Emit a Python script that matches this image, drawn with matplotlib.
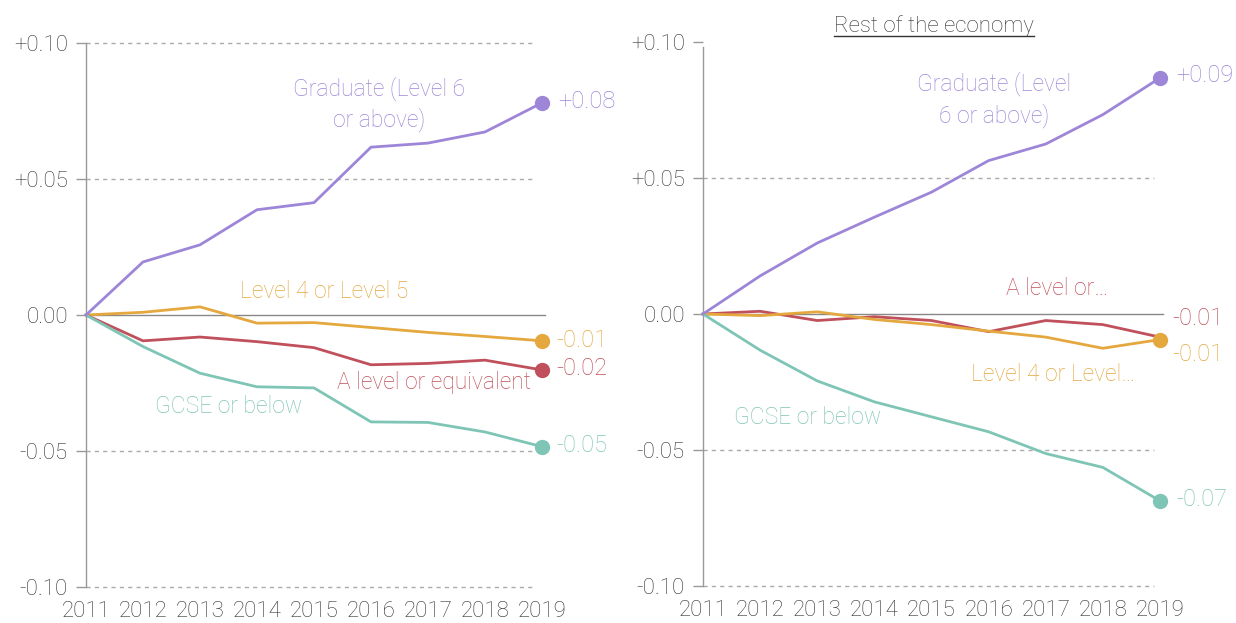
import numpy as np
import matplotlib
matplotlib.use("Agg")
import matplotlib.pyplot as plt
from matplotlib.lines import Line2D

plt.rcParams['font.family'] = ['Roboto', 'DejaVu Sans']
plt.rcParams['font.weight'] = 'light'

years = np.arange(2011, 2020)

# left panel
left_grad = [0, 0.0195, 0.0258, 0.0387, 0.0413, 0.0617, 0.0632, 0.0673, 0.078]
left_l45 = [0, 0.001, 0.003, -0.003, -0.0028, -0.0046, -0.0064, -0.0079, -0.0095]
left_alev = [0, -0.0095, -0.0081, -0.0098, -0.012, -0.0183, -0.0178, -0.0166, -0.0202]
left_gcse = [0, -0.0116, -0.0214, -0.0264, -0.0268, -0.0393, -0.0395, -0.043, -0.0484]

# rest of the economy (right)
right_grad = [0, 0.014, 0.0261, 0.0356, 0.0448, 0.0564, 0.0625, 0.0733, 0.0868]
right_l45 = [0, -0.0006, 0.0008, -0.002, -0.0039, -0.0063, -0.0085, -0.0126, -0.0094]
right_alev = [0, 0.001, -0.0024, -0.001, -0.0024, -0.0065, -0.0024, -0.0039, -0.0085]
right_gcse = [0, -0.0133, -0.0246, -0.0323, -0.0378, -0.0433, -0.0513, -0.0564, -0.0687]

yticks = [-0.10, -0.05, 0.0, 0.05, 0.10]
ytick_labels = ["-0.10", "-0.05", "0.00", "+0.05", "+0.10"]

c_grad = "#9d86d8"
c_l45 = "#e4a83f"
c_alev = "#c0505b"
c_gcse = "#7fc5b5"
txt = "#333333"

fig = plt.figure(figsize=(12.36, 6.23), dpi=100)
ax1 = fig.add_axes([86 / 1236, 36 / 623, 456 / 1236, 544 / 623])
ax2 = fig.add_axes([703 / 1236, 37 / 623, 457 / 1236, 544 / 623])


def style(ax, top_grid=True):
    ax.set_xlim(2011, 2019)
    ax.set_ylim(-0.10, 0.10)
    for s in ["top", "right", "bottom"]:
        ax.spines[s].set_visible(False)
    ax.spines["left"].set_color("#999999")
    ax.spines["left"].set_linewidth(1)
    if not top_grid:
        ax.spines["left"].set_bounds(-0.10, 0.098)
    ax.set_xticks(years)
    ax.set_xticklabels([str(y) for y in years])
    ax.set_yticks(yticks)
    ax.set_yticklabels(ytick_labels)
    ax.tick_params(axis="x", length=0, pad=10, labelsize=16, colors=txt)
    ax.tick_params(axis="y", length=7, width=1, color="#999999", pad=6,
                   labelsize=16, labelcolor=txt)
    for v in yticks:
        if v == 0:
            ax.plot([2011, 2019.05], [0, 0], color="#888888", lw=1,
                    zorder=1, clip_on=False)
        elif v == 0.10 and not top_grid:
            continue
        else:
            ax.plot([2011, 2018.9], [v, v], color="#aaaaaa", lw=1,
                    ls=(0, (3, 3)), zorder=1, clip_on=False)


style(ax1)
style(ax2, top_grid=False)

series_left = [(left_l45, c_l45), (left_alev, c_alev), (left_gcse, c_gcse), (left_grad, c_grad)]
for vals, c in series_left:
    ax1.plot(years, vals, color=c, lw=2, zorder=3, clip_on=False)
    ax1.plot(years[-1], vals[-1], "o", color=c, ms=10, zorder=4, clip_on=False)

series_right = [(right_alev, c_alev, False), (right_l45, c_l45, True),
                (right_gcse, c_gcse, True), (right_grad, c_grad, True)]
for vals, c, dot in series_right:
    ax2.plot(years, vals, color=c, lw=2, zorder=3, clip_on=False)
    if dot:
        ax2.plot(years[-1], vals[-1], "o", color=c, ms=10, zorder=4, clip_on=False)

lab = dict(fontsize=16.5, ha="center", va="center", linespacing=1.35)
ax1.text(2016.15, 0.0776, "Graduate (Level 6\nor above)", color=c_grad, **lab)
ax1.text(2015.18, 0.0088, "Level 4 or Level 5", color=c_l45, **lab)
ax1.text(2017.1, -0.0250, "A level or equivalent", color=c_alev, **lab)
ax1.text(2013.5, -0.0338, "GCSE or below", color=c_gcse, **lab)

ax2.text(2016.1, 0.0788, "Graduate (Level\n6 or above)", color=c_grad, **lab)
ax2.text(2017.2, 0.0095, "A level or\u2026", color=c_alev, **lab)
ax2.text(2017.13, -0.0223, "Level 4 or Level\u2026", color=c_l45, **lab)
ax2.text(2012.84, -0.0380, "GCSE or below", color=c_gcse, **lab)

end = dict(fontsize=17, ha="left", va="center")
ax1.text(2019.28, 0.0785, "+0.08", color=c_grad, **end)
ax1.text(2019.25, -0.0095, "-0.01", color=c_l45, **end)
ax1.text(2019.25, -0.0195, "-0.02", color=c_alev, **end)
ax1.text(2019.25, -0.0478, "-0.05", color=c_gcse, **end)

ax2.text(2019.28, 0.0875, "+0.09", color=c_grad, **end)
ax2.text(2019.22, -0.0015, "-0.01", color=c_alev, **end)
ax2.text(2019.22, -0.0148, "-0.01", color=c_l45, **end)
ax2.text(2019.28, -0.0683, "-0.07", color=c_gcse, **end)

# underlined panel title
title = fig.text(934 / 1236, 1 - 26 / 623, "Rest of the economy", fontsize=16,
                 color=txt, ha="center", va="center")
fig.canvas.draw()
bb = title.get_window_extent().transformed(fig.transFigure.inverted())
fig.add_artist(Line2D([bb.x0, bb.x1], [bb.y0 + 0.002, bb.y0 + 0.002],
                      color=txt, lw=1, transform=fig.transFigure))

fig.savefig("out.png", dpi=100)
